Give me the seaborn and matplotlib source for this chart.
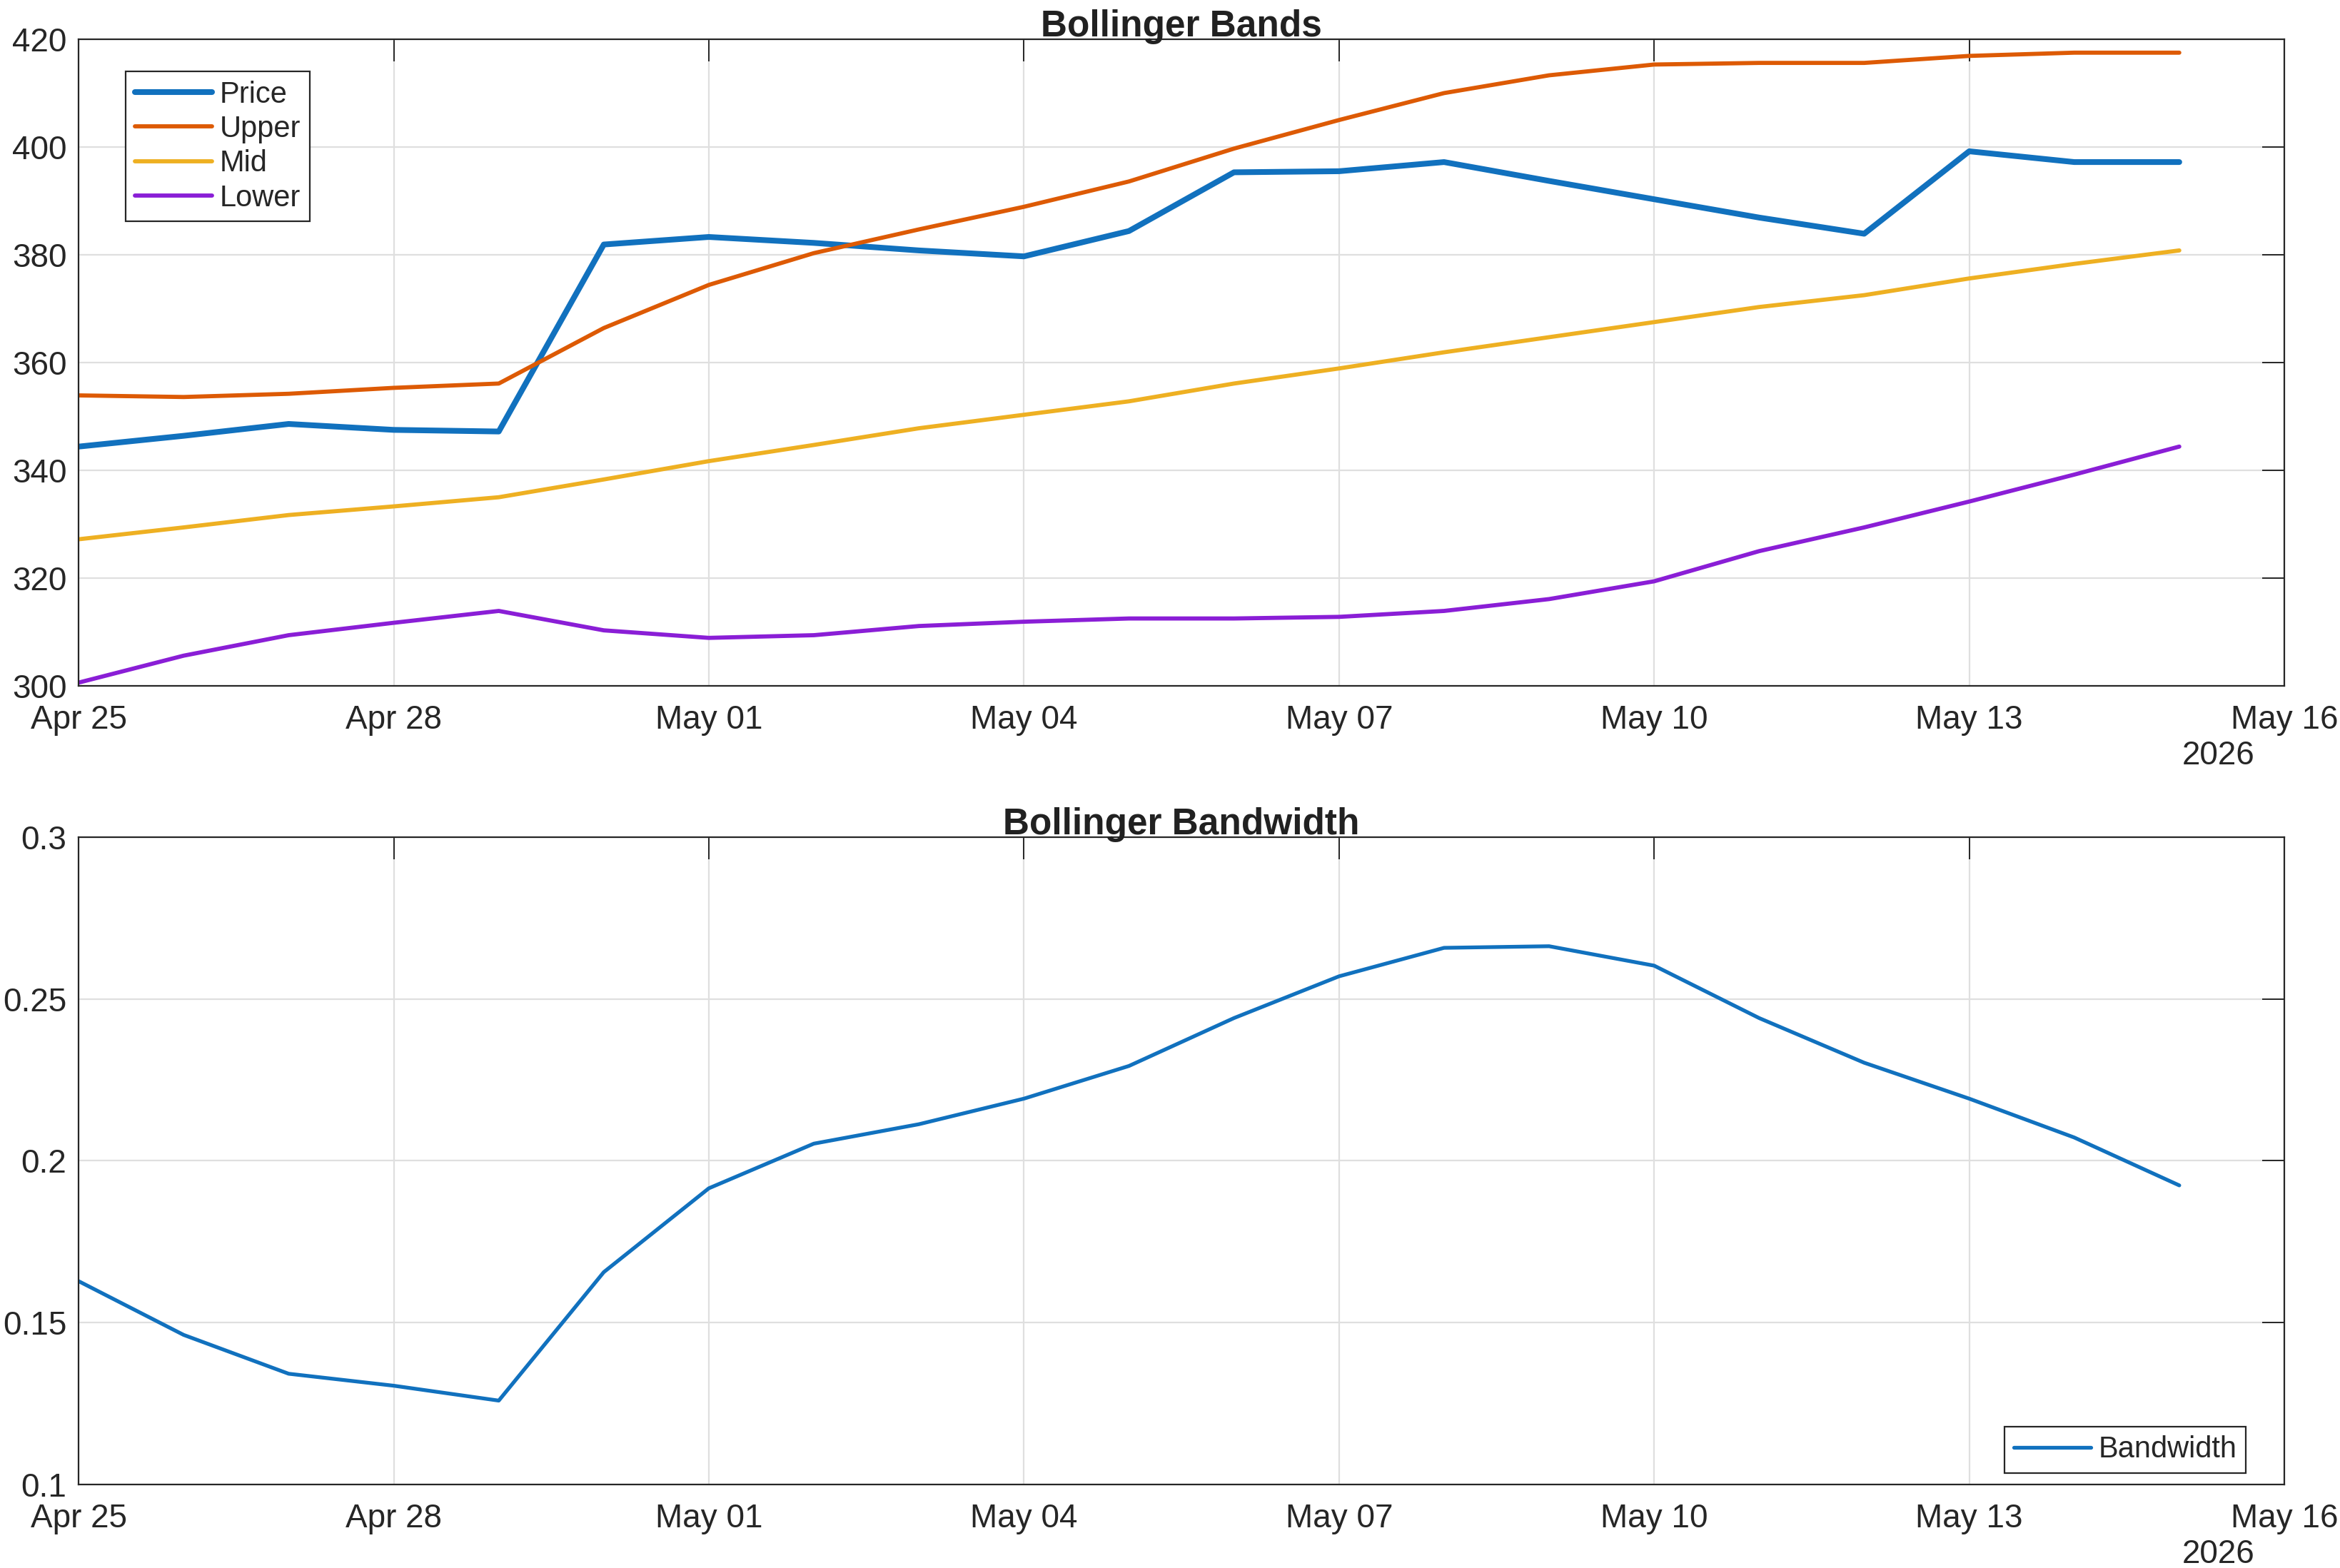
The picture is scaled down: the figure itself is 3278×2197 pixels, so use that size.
import matplotlib
matplotlib.use("Agg")
import matplotlib.pyplot as plt
import matplotlib.dates as mdates
import pandas as pd
import seaborn as sns

# values
dates = pd.date_range("2026-04-25", "2026-05-15", freq="D")
price = [344.4, 346.4, 348.6, 347.5, 347.2, 381.9, 383.3, 382.2, 380.8, 379.7, 384.4,
         395.3, 395.5, 397.2, 393.7, 390.3, 386.9, 383.9, 399.2, 397.2, 397.2]
upper = [353.9, 353.6, 354.2, 355.3, 356.1, 366.4, 374.4, 380.3, 384.7, 388.9, 393.6,
         399.7, 405.0, 410.0, 413.3, 415.3, 415.6, 415.6, 416.9, 417.5, 417.5]
mid = [327.2, 329.4, 331.7, 333.3, 335.0, 338.3, 341.7, 344.7, 347.8, 350.3, 352.8,
       356.1, 358.9, 361.9, 364.7, 367.5, 370.3, 372.5, 375.6, 378.3, 380.8]
lower = [300.6, 305.6, 309.4, 311.7, 313.9, 310.3, 308.9, 309.4, 311.1, 311.9, 312.5,
         312.5, 312.8, 313.9, 316.1, 319.4, 325.0, 329.4, 334.2, 339.2, 344.4]
bandwidth = [0.1628, 0.1462, 0.1342, 0.1305, 0.1259, 0.1656, 0.1915, 0.2053, 0.2113,
             0.2192, 0.2293, 0.2441, 0.2570, 0.2658, 0.2663, 0.2603, 0.2441, 0.2303,
             0.2192, 0.2072, 0.1924]
band_ticks = [300, 320, 340, 360, 380, 400, 420]
bw_ticks = [0.1, 0.15, 0.2, 0.25, 0.3]

sns.set_style("white")
plt.rcParams["font.family"] = ["Liberation Sans", "DejaVu Sans"]
plt.rcParams["axes.edgecolor"] = "#262626"
plt.rcParams["text.color"] = "#262626"

DARK = "#262626"
fig = plt.figure(figsize=(16.39, 10.985), dpi=200)
ax1 = fig.add_axes([0.0336, 0.5626, 0.9426, 0.4124])
ax2 = fig.add_axes([0.0336, 0.0533, 0.9426, 0.4128])

df = pd.DataFrame({"date": dates, "Price": price, "Upper": upper, "Mid": mid,
                   "Lower": lower, "Bandwidth": bandwidth})

sns.lineplot(data=df, x="date", y="Price", ax=ax1, color="#1171BE", linewidth=2.9, label="Price")
sns.lineplot(data=df, x="date", y="Upper", ax=ax1, color="#DD5A04", linewidth=2.1, label="Upper")
sns.lineplot(data=df, x="date", y="Mid", ax=ax1, color="#EEB022", linewidth=2.1, label="Mid")
sns.lineplot(data=df, x="date", y="Lower", ax=ax1, color="#8A1ED6", linewidth=2.1, label="Lower")
sns.lineplot(data=df, x="date", y="Bandwidth", ax=ax2, color="#1171BE", linewidth=1.9, label="Bandwidth")

for ax, ticks, title in [(ax1, band_ticks, "Bollinger Bands"), (ax2, bw_ticks, "Bollinger Bandwidth")]:
    ax.set_xlim(pd.Timestamp("2026-04-25"), pd.Timestamp("2026-05-16"))
    ax.set_ylim(ticks[0], ticks[-1])
    ax.set_yticks(ticks)
    ax.set_yticklabels(["%g" % t for t in ticks])
    ax.xaxis.set_major_locator(mdates.DayLocator(interval=3))
    ax.xaxis.set_major_formatter(mdates.DateFormatter("%b %d"))
    ax.set_xlabel("")
    ax.set_ylabel("")
    ax.grid(True, color="#DFDFDF", linewidth=0.8)
    ax.set_axisbelow(True)
    ax.tick_params(direction="in", length=11, width=0.7, color=DARK, labelcolor=DARK,
                   labelsize=16.5, top=True, right=True)
    ax.tick_params(axis="x", pad=9.5)
    ax.tick_params(axis="y", pad=6)
    for s in ax.spines.values():
        s.set_visible(True)
        s.set_linewidth(0.8)
        s.set_color(DARK)
    ax.set_title(title, fontsize=18.5, fontweight="bold", color="#212121", pad=1.5)
    ax.annotate("2026", xy=(1, 0), xycoords="axes fraction", xytext=(-14.8, -27.5),
                textcoords="offset points", ha="right", va="top", fontsize=16.5, color=DARK)

leg1 = ax1.legend(loc="upper left", bbox_to_anchor=(0.0214, 0.950), borderaxespad=0,
                  fontsize=15, handlelength=2.6, handletextpad=0.25, labelspacing=0.2,
                  borderpad=0.3, fancybox=False, framealpha=1, edgecolor=DARK)
leg1.get_frame().set_linewidth(0.8)
leg2 = ax2.legend(loc="lower right", bbox_to_anchor=(0.9825, 0.0176), borderaxespad=0,
                  fontsize=15, handlelength=2.6, handletextpad=0.25, borderpad=0.3,
                  fancybox=False, framealpha=1, edgecolor=DARK)
leg2.get_frame().set_linewidth(0.8)

fig.savefig("out.png", dpi=200)
